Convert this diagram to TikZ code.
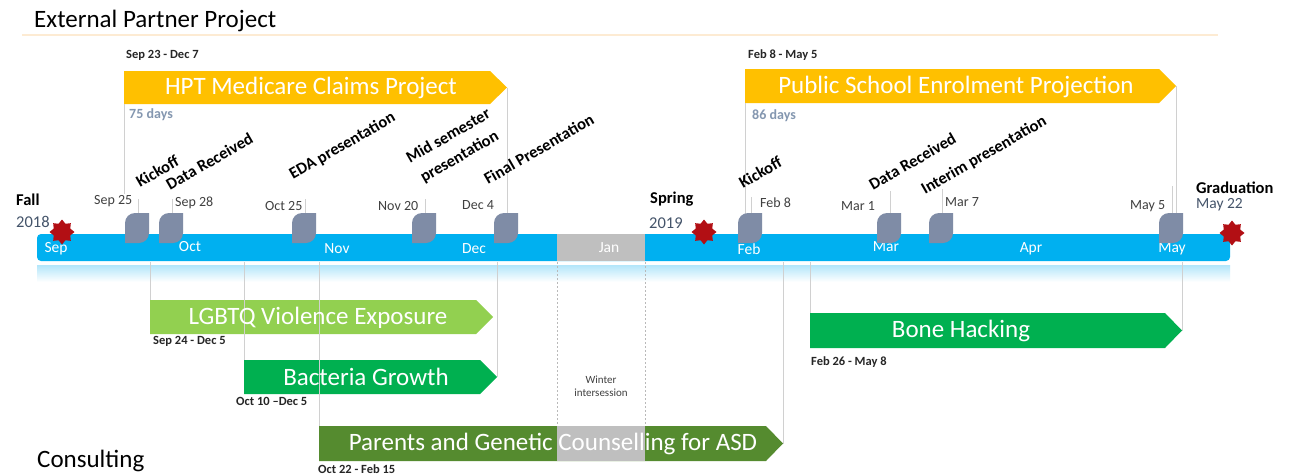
\documentclass[tikz,border=0pt]{standalone}
\usepackage{fontspec}
\setmainfont{Carlito}
\usetikzlibrary{shapes.geometric}

\definecolor{barblue}{HTML}{00B0F0}
\definecolor{reflc}{HTML}{B3E6FA}
\definecolor{jangray}{HTML}{BFBFBF}
\definecolor{yellowc}{HTML}{FFC000}
\definecolor{lgreen}{HTML}{92D050}
\definecolor{mgreen}{HTML}{00B050}
\definecolor{dgreen}{HTML}{558B2F}
\definecolor{msfill}{HTML}{7F8CA6}
\definecolor{starred}{HTML}{B20F14}
\definecolor{lineg}{HTML}{D0D0D0}
\definecolor{datec}{HTML}{404040}
\definecolor{yearc}{HTML}{44546A}
\definecolor{daysc}{HTML}{8497B0}
\definecolor{rulec}{HTML}{FDEBD3}

\tikzset{
  vline/.style={draw=lineg, line width=0.9pt},
  dotline/.style={draw=gray!55, line width=0.8pt, dash pattern=on 2pt off 2pt},
  rule/.style={draw=rulec, line width=1.5pt},
  datelbl/.style={font=\fontsize{14}{15}\selectfont, text=datec, inner sep=0, anchor=west},
  rangelbl/.style={font=\bfseries\fontsize{12.5}{13}\selectfont, text=black!85, inner sep=0, anchor=west},
  dayslbl/.style={font=\bfseries\fontsize{14}{15}\selectfont, text=daysc, inner sep=0, anchor=west},
  mlbl/.style={font=\bfseries\fontsize{16.5}{17}\selectfont, rotate=30, anchor=base west, inner sep=0},
  month/.style={font=\fontsize{15.5}{16}\selectfont, text=white, inner sep=0},
  bartext/.style={font=\fontsize{25}{26}\selectfont, text=white, inner sep=0},
  season/.style={font=\bfseries\fontsize{16.5}{17}\selectfont, inner sep=0, anchor=west},
  yearlbl/.style={font=\fontsize{16.5}{17}\selectfont, text=yearc, inner sep=0, anchor=west},
  section/.style={font=\fontsize{25}{27}\selectfont, anchor=west, inner sep=0},
  redstar/.style={star, star points=8, star point ratio=1.4, minimum size=25pt,
                  fill=starred, inner sep=0},
  smalltxt/.style={font=\fontsize{11}{12}\selectfont, text=datec, inner sep=0},
}

% chevron bar: name, colour, left x, tip x, top y, bottom y
\newcommand\chevron[6]{%
  \fill[#2] (#3,#5) -- (#4-17,#5) -- (#4,{(#5+#6)/2}) -- (#4-17,#6) -- (#3,#6) -- cycle;
  \coordinate (#1-w) at (#3,#5);
  \coordinate (#1-sw) at (#3,#6);
  \coordinate (#1-tip) at (#4,{(#5+#6)/2});
}

% milestone marker with its stem: name, stem x, stem top y
\newcommand\mstone[3]{%
  \coordinate (#1-top) at (#2,#3);
  \coordinate (#1) at (#2,213);
  \draw[vline] (#1-top) -- (#1);
  \fill[msfill] (#2-13,243) -- (#2-13,223)
     .. controls (#2-13,217.5) and (#2-8.5,213) .. (#2-3,213)
     -- (#2+11,213) -- (#2+11,233)
     .. controls (#2+11,238.5) and (#2+6.5,243) .. (#2+1,243) -- cycle;
}

\begin{document}
\begin{tikzpicture}[x=1pt,y=-1pt]
\useasboundingbox (0,0) rectangle (1290,474);
\fill[white] (0,0) rectangle (1290,474);

% section headings
\node[section] (hdr-ext) at (34,21) {External Partner Project};
\coordinate (rule-a) at (22,35);
\coordinate (rule-b) at (1218,35);
\draw[rule] (rule-a) -- (rule-b);
\node[section] (hdr-cons) at (37,461) {Consulting};

% timeline bar and its reflection
\shade[top color=reflc, bottom color=white] (37,265) rectangle (1230,282);
\fill[barblue, rounded corners=4pt] (37,234) rectangle (1230,261);
\fill[jangray] (557,234) rectangle (645,261);

% months
\node[month] (m-sep) at (56,249) {Sep};
\node[month] (m-oct) at (190,247) {Oct};
\node[month] (m-nov) at (337,249) {Nov};
\node[month] (m-dec) at (474,249) {Dec};
\node[month] (m-jan) at (609,248) {Jan};
\node[month] (m-feb) at (749,249) {Feb};
\node[month] (m-mar) at (886,247) {Mar};
\node[month] (m-apr) at (1031,249) {Apr};
\node[month] (m-may) at (1172,249) {May};

% semester markers
\node[season] (fall) at (16,200) {Fall};
\node[yearlbl] (fall-yr) at (16,222) {2018};
\node[season] (spring) at (650,199) {Spring};
\node[yearlbl] (spring-yr) at (649,223) {2019};
\node[season] (grad) at (1196,188) {Graduation};
\node[yearlbl, font=\fontsize{15.5}{16}\selectfont] (grad-date) at (1196,205) {May 22};
\node[redstar] (fallstar) at (62,232) {};
\node[redstar] (springstar) at (704,232) {};
\node[redstar] (gradstar) at (1232,233) {};

% external partner projects
\node[rangelbl] (hpt-range) at (126,55) {Sep 23 - Dec 7};
\chevron{hpt}{yellowc}{124}{507}{71}{104}
\node[bartext] (hpt-title) at (311,88) {HPT Medicare Claims Project};
\node[dayslbl] (hpt-days) at (129,115) {75 days};

\node[rangelbl] (pse-range) at (748,55) {Feb 8 - May 5};
\chevron{pse}{yellowc}{745}{1176}{69}{103}
\node[bartext] (pse-title) at (956,87) {Public School Enrolment Projection};
\node[dayslbl] (pse-days) at (752,116) {86 days};

% guide lines from the project banners
\coordinate (hpt-drop) at (124,194);
\draw[vline] (hpt-sw) -- (hpt-drop);
\coordinate (dec4-line) at (507,215);
\draw[vline] (hpt-tip) -- (dec4-line);
\coordinate (feb8-line) at (745,215);
\draw[vline] (pse-sw) -- (feb8-line);
\coordinate (may5-line) at (1176,215);
\draw[vline] (pse-tip) -- (may5-line);

% milestones
\mstone{sep25}{138}{199}
\mstone{sep28}{172}{199}
\mstone{oct25}{305}{199}
\mstone{nov20}{425}{199}
\mstone{dec4}{507}{199}
\mstone{feb8}{751}{197}
\mstone{mar1}{890}{191}
\mstone{mar7}{942}{189}
\mstone{may5}{1172}{186}

% milestone dates
\node[datelbl] (d-sep25) at (94,201) {Sep 25};
\node[datelbl] (d-sep28) at (175,203) {Sep 28};
\node[datelbl] (d-oct25) at (265,206) {Oct 25};
\node[datelbl] (d-nov20) at (378,206) {Nov 20};
\node[datelbl] (d-dec4) at (462,205) {Dec 4};
\node[datelbl] (d-feb8) at (760,203) {Feb 8};
\node[datelbl] (d-mar1) at (841,206) {Mar 1};
\node[datelbl] (d-mar7) at (945,202) {Mar 7};
\node[datelbl] (d-may5) at (1130,206) {May 5};

% milestone captions
\node[mlbl] (l-kick1) at (140,188) {Kickoff};
\node[mlbl] (l-data1) at (170,191) {Data Received};
\node[mlbl] (l-eda) at (293,180) {EDA presentation};
\node[mlbl] (l-mid1) at (410,164) {Mid semester};
\node[mlbl] (l-mid2) at (424,183) {presentation};
\node[mlbl] (l-final) at (488,185) {Final Presentation};
\node[mlbl] (l-kick2) at (743,189) {Kickoff};
\node[mlbl] (l-data2) at (873,191) {Data Received};
\node[mlbl] (l-interim) at (925,195) {Interim presentation};

% consulting projects: guide lines below the timeline
\coordinate (g-lgb) at (150,262);
\coordinate (g-bac) at (244,262);
\coordinate (g-par) at (319,262);
\coordinate (g-dec) at (497,262);
\coordinate (g-feb) at (783,262);
\coordinate (g-bone) at (810,262);
\coordinate (g-may) at (1182,262);
\coordinate (jan-a) at (557,262);
\coordinate (jan-b) at (645,262);
\coordinate (jan-a2) at (557,426);
\coordinate (jan-b2) at (645,426);
\draw[dotline] (jan-a) -- (jan-a2);
\draw[dotline] (jan-b) -- (jan-b2);

\chevron{lgb}{lgreen}{150}{493}{300}{334}
\chevron{bac}{mgreen}{244}{497}{360}{394}
\chevron{par}{dgreen}{319}{783}{426}{461}
\fill[jangray] (557,426) rectangle (645,461);
\chevron{bone}{mgreen}{810}{1182}{313}{348}

\draw[vline] (g-lgb) -- (lgb-w);
\draw[vline] (g-bac) -- (bac-w);
\draw[vline] (g-par) -- (par-w);
\draw[vline] (g-dec) -- (bac-tip);
\draw[vline] (g-feb) -- (par-tip);
\draw[vline] (g-bone) -- (bone-w);
\draw[vline] (g-may) -- (bone-tip);

\node[bartext] (lgb-title) at (318,318) {LGBTQ Violence Exposure};
\node[bartext] (bac-title) at (366,377) {Bacteria Growth};
\node[bartext] (par-title) at (553,444) {Parents and Genetic Counselling for ASD};
\node[bartext] (bone-title) at (961,331) {Bone Hacking};

\node[rangelbl] (lgb-range) at (153,341) {Sep 24 - Dec 5};
\node[rangelbl] (bac-range) at (236,401) {Oct 10 –Dec 5};
\node[rangelbl] (par-range) at (318,469) {Oct 22 - Feb 15};
\node[rangelbl] (bone-range) at (811,362) {Feb 26 - May 8};

\node[smalltxt] (winter1) at (601,380) {Winter};
\node[smalltxt] (winter2) at (601,393) {intersession};
\end{tikzpicture}
\end{document}
